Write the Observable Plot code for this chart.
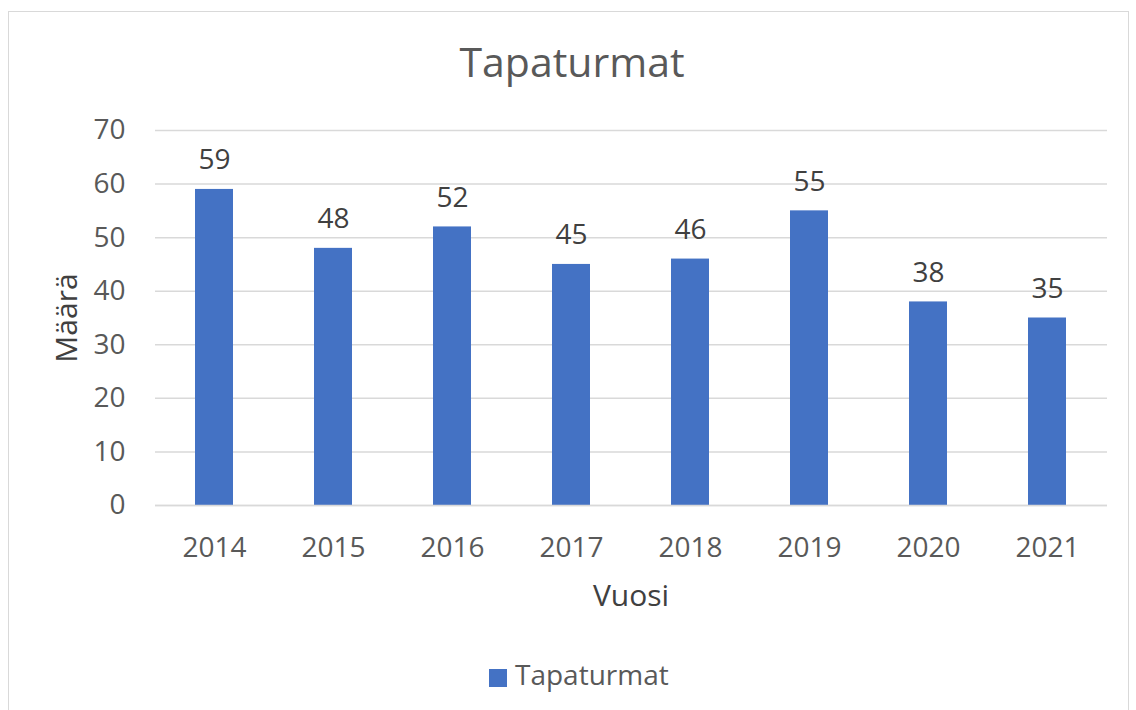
<!DOCTYPE html>
<html>
<head>
<meta charset="utf-8">
<script src="https://cdn.jsdelivr.net/npm/d3@7"></script>
<script src="https://cdn.jsdelivr.net/npm/@observablehq/plot@0.6"></script>
<style>
  html, body { margin: 0; padding: 0; background: #fff; }
  body { width: 1136px; height: 710px; position: relative; overflow: hidden; font-family: "Open Sans", sans-serif; }
  #frame { position: absolute; left: 8px; top: 11px; width: 1121px; height: 730px; border: 1.5px solid #d9d9d9; box-sizing: border-box; }
  #title { position: absolute; left: 0; width: 1144px; top: 41px; text-align: center; font-size: 41px; line-height: 1; color: #595959; }
  #chart { position: absolute; left: 0; top: 0; }
  #ylabel { position: absolute; left: 64.5px; top: 317.5px; transform: translate(-50%, -50%) rotate(-90deg); font-size: 30px; color: #404040; white-space: nowrap; }
  #xlabel { position: absolute; left: 0; width: 1262px; top: 580px; text-align: center; font-size: 30px; line-height: 1; color: #404040; }
  #legend { position: absolute; left: 489px; top: 660px; display: flex; align-items: center; font-size: 28px; line-height: 1; color: #595959; }
  #legend .sw { display: inline-block; width: 18px; height: 18px; background: #4472C4; margin-right: 8px; margin-top: 8px; }
</style>
</head>
<body>
<div id="frame"></div>
<div id="chart"></div>
<div id="title"></div>
<div id="ylabel"></div>
<div id="xlabel"></div>
<div id="legend"></div>
<script>
const titleText = "Tapaturmat";
const yLabel = "Määrä";
const xLabel = "Vuosi";
const seriesName = "Tapaturmat";
const years = ["2014", "2015", "2016", "2017", "2018", "2019", "2020", "2021"];
const values = [59, 48, 52, 45, 46, 55, 38, 35];
const yTicks = [0, 10, 20, 30, 40, 50, 60, 70];

const data = years.map((year, i) => ({year, value: values[i]}));
const barColor = "#4472C4";

const chart = Plot.plot({
  width: 1136,
  height: 620,
  marginTop: 130,
  marginBottom: 115,
  marginLeft: 155,
  marginRight: 29,
  style: {fontFamily: "Open Sans, sans-serif", fontSize: "28px", color: "#595959", background: "transparent"},
  x: {domain: years, paddingInner: 0.68, paddingOuter: 0.34, label: null},
  y: {domain: [0, 70], label: null},
  marks: [
    Plot.gridY(yTicks, {stroke: "#d9d9d9", strokeOpacity: 1, strokeWidth: 1.5}),
    Plot.barY(data, {x: "year", y: "value", fill: barColor}),
    Plot.ruleY([0], {stroke: "#d9d9d9", strokeWidth: 1.5}),
    Plot.text(data, {x: "year", y: "value", text: d => String(d.value), dy: -20, lineAnchor: "bottom", fontSize: 28, fill: "#404040"}),
    Plot.axisY({ticks: yTicks, tickSize: 0, tickPadding: 30, fontSize: 28, fill: "#595959", label: null}),
    Plot.axisX({tickSize: 0, tickPadding: 32, fontSize: 28, fill: "#595959", label: null})
  ]
});
document.getElementById("chart").appendChild(chart);
document.getElementById("title").textContent = titleText;
document.getElementById("ylabel").textContent = yLabel;
document.getElementById("xlabel").textContent = xLabel;
const lg = document.getElementById("legend");
const sw = document.createElement("span"); sw.className = "sw"; lg.appendChild(sw);
const lt = document.createElement("span"); lt.textContent = seriesName; lg.appendChild(lt);
</script>
</body>
</html>
